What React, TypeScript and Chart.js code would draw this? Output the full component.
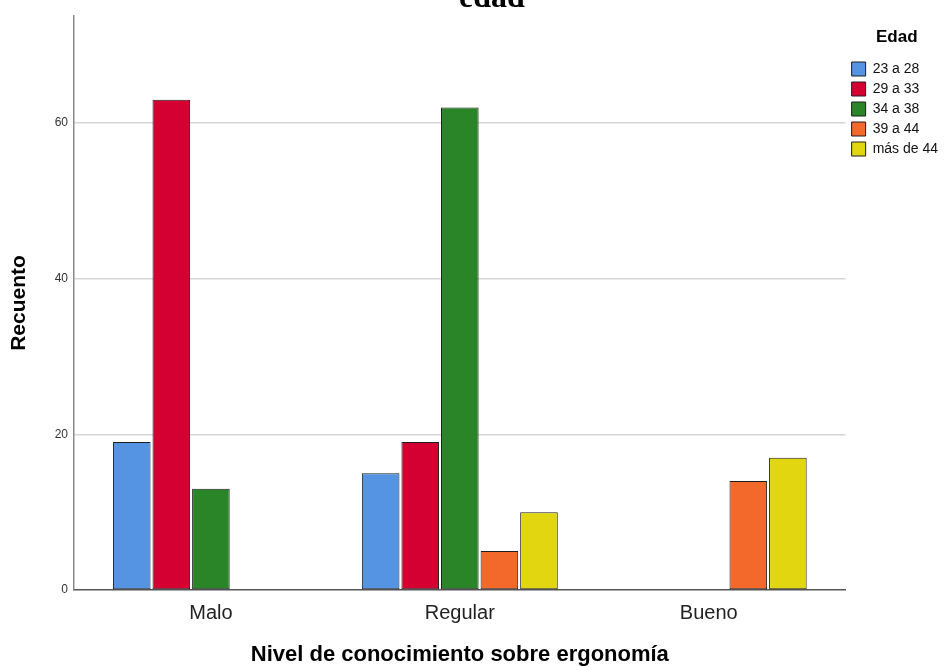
import React, { useEffect, useRef } from "react";
import { Chart, registerables } from "chart.js";

Chart.register(...registerables);

const categories = ["Malo", "Regular", "Bueno"];
const seriesLabels = ["23 a 28", "29 a 33", "34 a 38", "39 a 44", "más de 44"];
const s23a28 = [19, 15, null];
const s29a33 = [63, 19, null];
const s34a38 = [13, 62, null];
const s39a44 = [null, 5, 14];
const sMas44 = [null, 10, 17];
const seriesValues = [s23a28, s29a33, s34a38, s39a44, sMas44];
const yTicks = [0, 20, 40, 60];
const colors = ["#5594e2", "#d50032", "#2a8529", "#f3692b", "#e2d610"];

const SANS = "'Liberation Sans', Arial, sans-serif";
const PAD_L = 36;
const PAD_R = 4;

export default function App() {
  const ref = useRef<HTMLCanvasElement>(null);

  useEffect(() => {
    const chart = new Chart(ref.current as HTMLCanvasElement, {
      type: "bar",
      data: {
        datasets: seriesLabels.map((label, i) => ({
          label,
          data: seriesValues[i].map((v, j) => ({ x: j, y: v })),
          backgroundColor: colors[i],
          borderColor: "#1e1e1e",
          borderWidth: 1,
          borderSkipped: false,
          categoryPercentage: 0.795,
          barPercentage: 0.95,
        })),
      } as any,
      options: {
        animation: false,
        responsive: false,
        maintainAspectRatio: false,
        layout: { padding: { left: PAD_L, right: PAD_R, top: 0, bottom: 0 } },
        plugins: {
          tooltip: { enabled: false },
          title: {
            display: true,
            text: "edad",
            color: "#000",
            font: { family: "'Liberation Serif', 'Times New Roman', serif", size: 32, weight: "bold" },
            padding: { top: -20, bottom: -2.4 },
          },
          legend: {
            position: "right",
            align: "start",
            title: {
              display: true,
              text: "Edad",
              color: "#000",
              font: { family: SANS, size: 17, weight: "bold" },
              padding: { top: 29, bottom: 6.6 },
            },
            labels: {
              boxWidth: 14,
              boxHeight: 14,
              padding: 6,
              color: "#111",
              font: { family: SANS, size: 14 },
            },
          },
        },
        scales: {
          x: {
            type: "linear",
            min: -0.55,
            max: 2.55,
            offset: false,
            afterBuildTicks: (s: any) => {
              s.ticks = categories.map((_, i) => ({ value: i }));
            },
            afterFit: (s: any) => {
              s.height = 76;
            },
            ticks: {
              callback: (v: any) => categories[v] ?? "",
              font: { family: SANS, size: 20 },
              color: "#222",
              padding: 11,
              autoSkip: false,
              maxRotation: 0,
            },
            grid: { display: false, drawTicks: false, offset: false },
            border: { color: "#555", width: 1.5 },
            title: {
              display: true,
              text: "Nivel de conocimiento sobre ergonomía",
              color: "#000",
              font: { family: SANS, size: 22, weight: "bold" },
              padding: { top: 0, bottom: -2 },
            },
          },
          y: {
            min: 0,
            max: 73.75,
            afterBuildTicks: (s: any) => {
              s.ticks = yTicks.map((v) => ({ value: v }));
            },
            afterFit: (s: any) => {
              s.width = 74 - PAD_L;
            },
            ticks: {
              font: { family: SANS, size: 12 },
              color: "#333",
              padding: 6,
            },
            grid: {
              color: (c: any) => (c.tick && c.tick.value === 0 ? "rgba(0,0,0,0)" : "#d6d6d6"),
              lineWidth: 1.5,
              drawTicks: false,
            },
            border: { color: "#8a8a8a", width: 1.5 },
            title: {
              display: true,
              text: "Recuento",
              color: "#000",
              font: { family: SANS, size: 21, weight: "bold" },
              padding: { top: 19 - PAD_L - 12.6, bottom: 0 },
            },
          },
        },
      } as any,
    });
    return () => chart.destroy();
  }, []);

  return (
    <div style={{ position: "absolute", left: 0, top: 0, width: 952, height: 666, background: "#fff" }}>
      <canvas ref={ref} width={952} height={666} style={{ display: "block" }} />
    </div>
  );
}
